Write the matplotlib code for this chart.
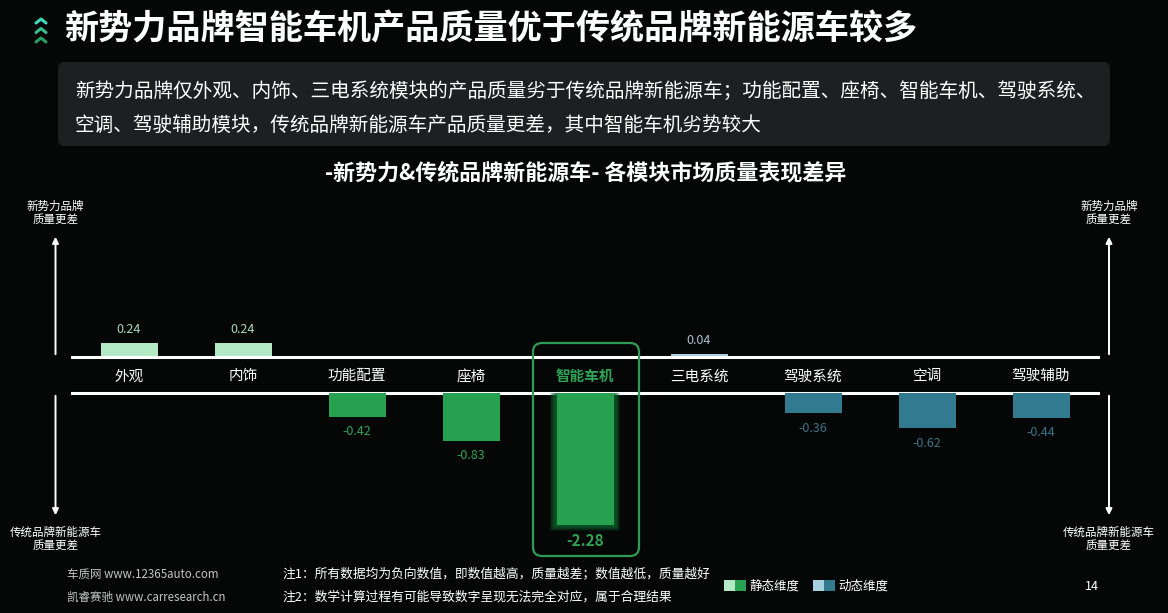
import numpy as np
import matplotlib
matplotlib.use("Agg")
import matplotlib.pyplot as plt
import matplotlib.patches as mpatches

plt.rcParams['font.family'] = ['Noto Sans CJK SC', 'DejaVu Sans']

# 数据
categories = ['外观', '内饰', '功能配置', '座椅', '智能车机', '三电系统', '驾驶系统', '空调', '驾驶辅助']
values = [0.24, 0.24, -0.42, -0.83, -2.28, 0.04, -0.36, -0.62, -0.44]
dimension = ['static', 'static', 'static', 'static', 'static', 'dynamic', 'dynamic', 'dynamic', 'dynamic']
highlight = '智能车机'

title = '新势力品牌智能车机产品质量优于传统品牌新能源车较多'
summary = ['新势力品牌仅外观、内饰、三电系统模块的产品质量劣于传统品牌新能源车；功能配置、座椅、智能车机、驾驶系统、',
           '空调、驾驶辅助模块，传统品牌新能源车产品质量更差，其中智能车机劣势较大']
subtitle = '-新势力&传统品牌新能源车- 各模块市场质量表现差异'
notes = ['注1：所有数据均为负向数值，即数值越高，质量越差；数值越低，质量越好',
         '注2：数学计算过程有可能导致数字呈现无法完全对应，属于合理结果']
sources = ['车质网 www.12365auto.com', '凯睿赛驰 www.carresearch.cn']

# 颜色
col_pos = {'static': '#b3e8c5', 'dynamic': '#a6d0dc'}
col_neg = {'static': '#27a050', 'dynamic': '#327a90'}
lab_pos = {'static': '#a9d9b6', 'dynamic': '#a9c4cc'}
lab_neg = {'static': '#2ea354', 'dynamic': '#3a7387'}
bg = '#050707'

W, H = 1168, 613
fig = plt.figure(figsize=(W / 100, H / 100), dpi=100, facecolor=bg)


def fbox(x0, y0, x1, y1):
    # 像素 -> 图坐标
    return [x0 / W, 1 - y1 / H, (x1 - x0) / W, (y1 - y0) / H]


# 背景层
axb = fig.add_axes([0, 0, 1, 1], zorder=0)
axb.set_xlim(0, W)
axb.set_ylim(H, 0)
axb.axis('off')
axb.add_patch(mpatches.FancyBboxPatch((58, 62), 1052, 84, boxstyle='round,pad=0,rounding_size=6',
                                      fc='#1e1f20', ec='none'))

# 图表区
scale = 58.0
x0, x1 = 72, 1098
y_top, y_line1, y_line2, y_bot = 200, 356.5, 392.5, 570
n = len(categories)
xs = np.arange(n)

ax_up = fig.add_axes(fbox(x0, y_top, x1, y_line1), zorder=2)
ax_mid = fig.add_axes(fbox(x0, y_line1, x1, y_line2), zorder=2)
ax_dn = fig.add_axes(fbox(x0, y_line2, x1, y_bot), zorder=2)
for a in (ax_up, ax_mid, ax_dn):
    a.set_xlim(-0.5, n - 0.5)
    a.axis('off')
    a.patch.set_alpha(0)
ax_up.set_ylim(0, (y_line1 - y_top) / scale)
ax_dn.set_ylim(-(y_bot - y_line2) / scale, 0)
ax_mid.set_ylim(0, 1)

for i, (c, v, d) in enumerate(zip(categories, values, dimension)):
    if v >= 0:
        ax_up.bar(i, v, width=0.5, color=col_pos[d])
        ax_up.text(i, v + 0.12, f'{v:.2f}', ha='center', va='bottom', fontsize=9, color=lab_pos[d])
    else:
        if c == highlight:
            for k in range(10, 0, -1):
                ax_dn.bar(i, v - 0.01 * k, width=0.5 + 0.011 * k, color='#0f6a2d', alpha=0.16)
            ax_dn.bar(i, v, width=0.5, color=col_neg[d])
            ax_dn.text(i, v - 0.14, f'{v:.2f}', ha='center', va='top', fontsize=11,
                       fontweight='bold', color=lab_neg[d])
        else:
            ax_dn.bar(i, v, width=0.5, color=col_neg[d])
            ax_dn.text(i, v - 0.14, f'{v:.2f}', ha='center', va='top', fontsize=9, color=lab_neg[d])
    if c == highlight:
        ax_mid.text(i, 0.45, c, ha='center', va='center', fontsize=10.5, color='#2ea354', fontweight='bold')
    else:
        ax_mid.text(i, 0.45, c, ha='center', va='center', fontsize=10.5, color='white')

ax_mid.axhline(1, color='white', lw=2.2, clip_on=False)
ax_mid.axhline(0, color='white', lw=2.2, clip_on=False)

# 前景层
axf = fig.add_axes([0, 0, 1, 1], zorder=5)
axf.set_xlim(0, W)
axf.set_ylim(H, 0)
axf.axis('off')
axf.patch.set_alpha(0)

# 高亮框
axf.add_patch(mpatches.FancyBboxPatch((533, 343), 106, 213, boxstyle='round,pad=0,rounding_size=9',
                                      fc='none', ec='#2f9a55', lw=1.6))

# 标题与图标
for j, cc in enumerate(['#3fd9b8', '#33bf8e', '#2a9d63']):
    yc = 19 + j * 9.5
    axf.plot([36, 41, 46], [yc + 4, yc, yc + 4], color=cc, lw=2.2, solid_capstyle='round')
axf.text(64, 29, title, ha='left', va='center', fontsize=24.6, fontweight='bold', color='white')
axf.text(75, 91, summary[0], ha='left', va='center', fontsize=14.1, color='white')
axf.text(75, 125, summary[1], ha='left', va='center', fontsize=14.1, color='white')
axf.text(586, 173, subtitle, ha='center', va='center', fontsize=15.8, fontweight='bold', color='white')

# 两侧箭头
for xa in (55.5, 1109):
    axf.annotate('', xy=(xa, 234), xytext=(xa, 357),
                 arrowprops=dict(arrowstyle='-|>', color='white', lw=1.4, mutation_scale=9))
    axf.annotate('', xy=(xa, 518), xytext=(xa, 393),
                 arrowprops=dict(arrowstyle='-|>', color='white', lw=1.4, mutation_scale=9))
    axf.text(xa, 213, '新势力品牌\n质量更差', ha='center', va='center', fontsize=8.3,
             color='white', linespacing=1.05)
    axf.text(xa, 539, '传统品牌新能源车\n质量更差', ha='center', va='center', fontsize=8.3,
             color='white', linespacing=1.05)

# 页脚
axf.text(67, 574, sources[0], ha='left', va='center', fontsize=8.3, color='#c4c4c4')
axf.text(67, 597, sources[1], ha='left', va='center', fontsize=8.3, color='#c4c4c4')
axf.text(282, 574, notes[0], ha='left', va='center', fontsize=9.2, color='white')
axf.text(282, 597, notes[1], ha='left', va='center', fontsize=9.2, color='white')

axf.add_patch(mpatches.Rectangle((724, 580), 11, 11, fc=col_pos['static'], ec='none'))
axf.add_patch(mpatches.Rectangle((735, 580), 11, 11, fc=col_neg['static'], ec='none'))
axf.text(749, 586, '静态维度', ha='left', va='center', fontsize=9, color='white')
axf.add_patch(mpatches.Rectangle((813, 580), 11, 11, fc=col_pos['dynamic'], ec='none'))
axf.add_patch(mpatches.Rectangle((824, 580), 11, 11, fc=col_neg['dynamic'], ec='none'))
axf.text(838, 586, '动态维度', ha='left', va='center', fontsize=9, color='white')
axf.text(1092, 586, '14', ha='center', va='center', fontsize=9, color='white')

fig.savefig('out.png', dpi=100, facecolor=bg)
